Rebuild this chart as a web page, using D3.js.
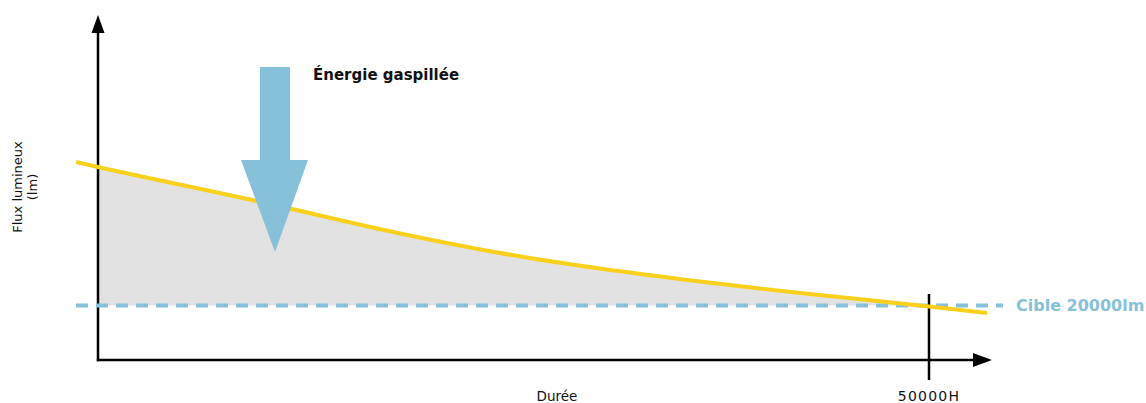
<!DOCTYPE html>
<html>
    <head>
        <meta charset="utf-8">
        <title></title>
        <style media="screen">
            body { margin: 0; background: #fff; }
            svg text { font-family: "DejaVu Sans", sans-serif; fill: #111; }
            svg .axis { stroke: #000; stroke-width: 2.5; fill: none; }
            svg .head { fill: #000; stroke: none; }
            svg .waste { fill: #e2e2e2; stroke: none; }
            svg .flux { fill: none; stroke: #f9d01c; stroke-width: 4; }
            svg .target { fill: none; stroke: #86c1d9; stroke-width: 4; stroke-dasharray: 12 8; }
            svg .arrow { fill: #86c1d9; stroke: none; }
        </style>
    </head>
    <body>
        <svg class='drawing'></svg>

        <script src="https://d3js.org/d3.v7.min.js" charset="utf-8"></script>
        <script>
            var w = 1146;
            var h = 403;

            // hours -> lumens
            var hours = [-1320, 0, 9150, 18170, 24190, 30200, 36220, 42240, 50000, 53490];
            var flux  = [30360, 30000, 27650, 25200, 23790, 22670, 21730, 20900, 19930, 19460];
            var target = 20000;
            var lifetime = 50000;
            var xLabel = 'Durée';
            var yLabel = ['Flux lumineux', '(lm)'];
            var tickLabel = '50000H';
            var targetLabel = 'Cible 20000lm';
            var wasteLabel = 'Énergie gaspillée';

            var x = d3.scaleLinear().domain([0, lifetime]).range([98, 929]);
            var y = d3.scaleLinear().domain([target, 30000]).range([305.5, 167]);
            var y0 = 360;

            var points = hours.map((d, i) => [d, flux[i]]);

            var svg = d3.select('.drawing')
                .attr('width', w)
                .attr('height', h);

            // grey area between curve and target
            var filled = points.filter(d => d[0] >= 0 && d[1] >= target - 200);
            svg.append('path')
                .datum(filled)
                .attr('class', 'waste')
                .attr('d', d3.area()
                    .curve(d3.curveMonotoneX)
                    .x(d => x(d[0]))
                    .y0(y(target))
                    .y1(d => y(Math.max(d[1], target))));

            // axes
            svg.append('line').attr('class', 'axis')
                .attr('x1', x(0)).attr('y1', y0 + 1.2)
                .attr('x2', x(0)).attr('y2', 30);
            svg.append('path').attr('class', 'head')
                .attr('d', d3.line()([[x(0) - 6.5, 33], [x(0), 15], [x(0) + 6.5, 33]]));
            svg.append('line').attr('class', 'axis')
                .attr('x1', x(0) - 1.2).attr('y1', y0)
                .attr('x2', 976).attr('y2', y0);
            svg.append('path').attr('class', 'head')
                .attr('d', d3.line()([[973, y0 - 7], [992, y0], [973, y0 + 7]]));
            svg.append('line').attr('class', 'axis')
                .attr('x1', x(lifetime)).attr('y1', 294)
                .attr('x2', x(lifetime)).attr('y2', 380);

            // target dashed line
            svg.append('line').attr('class', 'target')
                .attr('x1', x(hours[0])).attr('y1', y(target))
                .attr('x2', 1003).attr('y2', y(target));

            // flux curve
            svg.append('path')
                .datum(points)
                .attr('class', 'flux')
                .attr('d', d3.line()
                    .curve(d3.curveMonotoneX)
                    .x(d => x(d[0]))
                    .y(d => y(d[1])));

            // big arrow
            svg.append('path').attr('class', 'arrow')
                .attr('d', d3.line()([[260, 67], [290, 67], [290, 160], [308, 160],
                    [275, 252], [241, 160], [260, 160]]) + 'Z');

            svg.append('text')
                .attr('x', 313).attr('y', 80)
                .attr('font-size', 15).attr('font-weight', 'bold')
                .text(wasteLabel);

            svg.append('text')
                .attr('x', 1016).attr('y', 311)
                .attr('font-size', 16).attr('font-weight', 'bold')
                .style('fill', '#86c1d9')
                .text(targetLabel);

            svg.append('text')
                .attr('x', 557).attr('y', 401)
                .attr('text-anchor', 'middle').attr('font-size', 13.5)
                .text(xLabel);
            svg.append('text')
                .attr('x', x(lifetime)).attr('y', 401)
                .attr('text-anchor', 'middle').attr('font-size', 14)
                .attr('letter-spacing', 1.2)
                .text(tickLabel);

            svg.append('text')
                .attr('transform', 'translate(22,187) rotate(-90)')
                .attr('text-anchor', 'middle').attr('font-size', 13)
                .selectAll('tspan')
                .data(yLabel)
                .enter()
                    .append('tspan')
                    .attr('x', 0)
                    .attr('dy', (d, i) => i ? 15 : 0)
                    .text(d => d);
        </script>
    </body>
</html>
